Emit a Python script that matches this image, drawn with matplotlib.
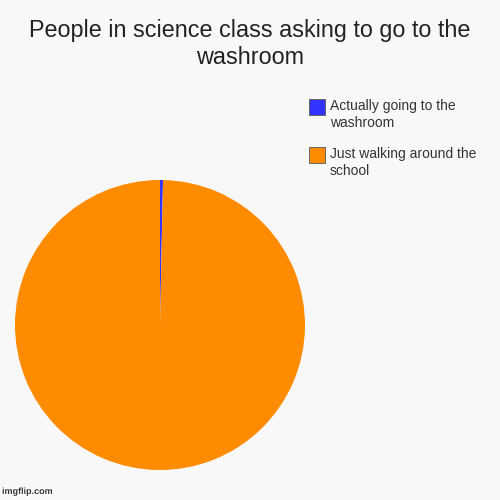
import matplotlib.pyplot as plt
import matplotlib.patches as mpatches
import matplotlib.patheffects as pe

plt.rcParams['font.family'] = ['Liberation Sans', 'DejaVu Sans']

title = "People in science class asking to go to the\nwashroom"
labels = ["Actually going to the\nwashroom", "Just walking around the\nschool"]
values = [1, 300]
colors = ["#3333ff", "#ff8c00"]

W = H = 500
fig = plt.figure(figsize=(5, 5), dpi=100, facecolor="#f8f8f8")

# pie area: center (160, 325) px, radius 145 px
ax = fig.add_axes([15 / W, 30 / H, 290 / W, 290 / H])
ax.set_facecolor("#f8f8f8")
ax.pie(values, colors=colors, startangle=90, counterclock=False,
       wedgeprops=dict(linewidth=0))
ax.set_aspect('equal')
ax.set_xlim(-1, 1)
ax.set_ylim(-1, 1)

fig.text(0.5, 1 - 44 / H, title, ha='center', va='center',
         fontsize=16.8, color='#222222', linespacing=1.25)

# legend drawn by hand so the swatch sits at the first text line
for i, (c, l) in enumerate(zip(colors, labels)):
    top = 99 + i * 48
    fig.patches.append(mpatches.Rectangle((309 / W, 1 - (top + 16) / H), 16 / W, 16 / H,
                                          transform=fig.transFigure, facecolor=c,
                                          edgecolor='#666666', linewidth=0.7))
    fig.text(330 / W, 1 - top / H, l, ha='left', va='top', fontsize=10,
             color='#333333', linespacing=1.3)

fig.text(2 / W, 6 / H, "imgflip.com", fontsize=6.5, color='#333333',
         fontweight='bold',
         path_effects=[pe.withStroke(linewidth=2, foreground='white')])

fig.savefig("out.png", dpi=100, facecolor=fig.get_facecolor())
